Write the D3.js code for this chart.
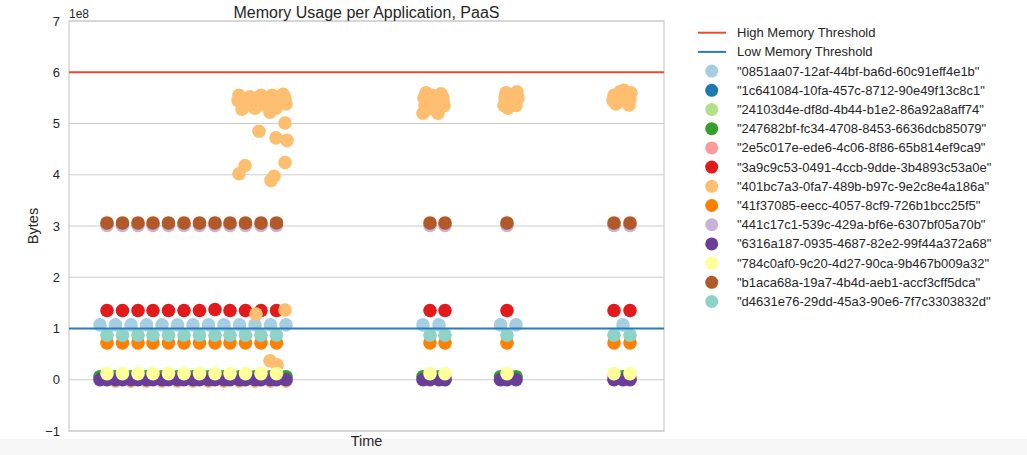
<!DOCTYPE html>
<html>
<head>
<meta charset="utf-8">
<script src="https://cdn.jsdelivr.net/npm/d3@7"></script>
<style>
  html, body { margin: 0; padding: 0; background: #ffffff; }
  svg { display: block; font-family: "Liberation Sans", Arial, sans-serif; }
</style>
</head>
<body>
<svg id="chart" width="1027" height="455"></svg>
<script>
// ---------- DATA ----------
const title = "Memory Usage per Application, PaaS";
const yLabel = "Bytes";
const xLabel = "Time";
const yTicks = [-1e8, 0, 1e8, 2e8, 3e8, 4e8, 5e8, 6e8, 7e8];
const highThreshold = 6e8;
const lowThreshold = 1e8;

const appNames = [
  "\"0851aa07-12af-44bf-ba6d-60c91eff4e1b\"",
  "\"1c641084-10fa-457c-8712-90e49f13c8c1\"",
  "\"24103d4e-df8d-4b44-b1e2-86a92a8aff74\"",
  "\"247682bf-fc34-4708-8453-6636dcb85079\"",
  "\"2e5c017e-ede6-4c06-8f86-65b814ef9ca9\"",
  "\"3a9c9c53-0491-4ccb-9dde-3b4893c53a0e\"",
  "\"401bc7a3-0fa7-489b-b97c-9e2c8e4a186a\"",
  "\"41f37085-eecc-4057-8cf9-726b1bcc25f5\"",
  "\"441c17c1-539c-429a-bf6e-6307bf05a70b\"",
  "\"6316a187-0935-4687-82e2-99f44a372a68\"",
  "\"784c0af0-9c20-4d27-90ca-9b467b009a32\"",
  "\"b1aca68a-19a7-4b4d-aeb1-accf3cff5dca\"",
  "\"d4631e76-29dd-45a3-90e6-7f7c3303832d\""
];
const appColors = ["#a6cee3","#1f78b4","#b2df8a","#33a02c","#fb9a99","#e31a1c",
                   "#fdbf6f","#ff7f00","#cab2d6","#6a3d9a","#ffff99","#b15928","#8dd3c7"];

// sample times (minutes from start)
const timesA = [62,93,124,155,186,217,248,279,310,341,372,403,434, 708,740, 863,894, 1108];
const timesB = [76,107,138,168,199,230,261,292,322,353,384,415, 722,752, 876, 1090,1122];

// memory values in units of 1e8 bytes
const vals0851 = [1.07,1.07,1.07,1.07,1.07,1.07,1.07,1.07,1.07,1.07,1.07,1.07,1.07, 1.07,1.07, 1.07,1.07, 1.07];
const vals1c64 = [0.02,0.02,0.02,0.02,0.02,0.02,0.02,0.02,0.02,0.02,0.02,0.02, 0.02,0.02, 0.02, 0.02,0.02];
const vals2410 = [0.04,0.04,0.04,0.04,0.04,0.04,0.04,0.04,0.04,0.04,0.04,0.04, 0.04,0.04, 0.04, 0.04,0.04];
const vals2476 = [0.06,0.06,0.06,0.06,0.06,0.06,0.06,0.06,0.06,0.06,0.06,0.06,0.06, 0.06,0.06, 0.06,0.06, 0.06];
const vals2e5c = [0.05,0.05,0.05,0.05,0.05,0.05,0.05,0.05,0.05,0.05,0.05,0.05, 0.05,0.05, 0.05, 0.05,0.05];
const vals3a9c = [1.35,1.35,1.35,1.35,1.35,1.35,1.35,1.37,1.35,1.35,1.35,1.35, 1.35,1.35, 1.35, 1.35,1.35];
const times401b = [338,340,344,346,356,362,366,372,376,378,384,388,394,398,402,406,410,414,420,428,432,434,430,
                   432,380,414,436,352,340,432,410,404,374,432,402,416,
                   93,124,155,186,217,248,279,310,341,372,403,434,
                   708,712,710,714,722,726,730,738,742,744,748,750,718,734,
                   870,872,874,882,888,894,898,896,878,886,
                   1088,1090,1094,1102,1106,1110,1114,1118,1122,1124,1120,1098];
const vals401b = [5.45,5.55,5.50,5.28,5.38,5.52,5.45,5.30,5.50,5.42,5.55,5.40,5.35,5.50,5.22,5.55,5.45,5.30,5.52,5.57,5.48,5.38,5.53,
                  5.01,4.85,4.72,4.67,4.18,4.02,4.24,3.97,3.89,1.28,1.36,0.37,0.29,
                  -0.03,-0.03,-0.03,-0.03,-0.03,-0.03,-0.03,-0.03,-0.03,-0.03,-0.03,-0.03,
                  5.20,5.35,5.50,5.60,5.45,5.55,5.30,5.20,5.40,5.58,5.50,5.35,5.28,5.48,
                  5.35,5.50,5.60,5.45,5.55,5.35,5.50,5.62,5.30,5.40,
                  5.45,5.55,5.38,5.62,5.50,5.65,5.42,5.55,5.48,5.60,5.36,5.50];
const vals41f3 = [0.72,0.72,0.72,0.72,0.72,0.72,0.72,0.72,0.72,0.72,0.72,0.72, 0.72,0.72, 0.72, 0.72,0.72];
const vals441c = [3.01,3.01,3.01,3.01,3.01,3.01,3.01,3.01,3.01,3.01,3.01,3.01, 3.01,3.01, 3.01, 3.01,3.01];
const vals6316A = [0.0,0.0,0.0,0.0,0.0,0.0,0.0,0.0,0.0,0.0,0.0,0.0,0.0, 0.0,0.0, 0.0,0.0, 0.0];
const vals6316B = [0.0,0.0,0.0,0.0,0.0,0.0,0.0,0.0,0.0,0.0,0.0,0.0, 0.0,0.0, 0.0, 0.0,0.0];
const vals784c = [0.12,0.12,0.12,0.12,0.12,0.12,0.12,0.12,0.12,0.12,0.12,0.12, 0.12,0.12, 0.12, 0.12,0.12];
const valsb1ac = [3.06,3.06,3.06,3.06,3.06,3.06,3.06,3.06,3.06,3.06,3.06,3.06, 3.06,3.06, 3.06, 3.06,3.06];
const valsd463 = [0.87,0.87,0.87,0.87,0.87,0.87,0.87,0.87,0.87,0.87,0.87,0.87, 0.87,0.87, 0.87, 0.87,0.87];

// ---------- BUILD ----------
const pair = (ts, vs) => ts.map((t, i) => ({ t: t, v: vs[i] * 1e8 }));
const seriesPoints = [
  pair(timesA, vals0851),
  pair(timesB, vals1c64),
  pair(timesB, vals2410),
  pair(timesA, vals2476),
  pair(timesB, vals2e5c),
  pair(timesB, vals3a9c),
  pair(times401b, vals401b),
  pair(timesB, vals41f3),
  pair(timesB, vals441c),
  pair(timesA, vals6316A).concat(pair(timesB, vals6316B)),
  pair(timesB, vals784c),
  pair(timesB, valsb1ac),
  pair(timesB, valsd463)
];

const svg = d3.select("#chart");
const W = 1027, H = 455;
const plot = { left: 69, right: 664, top: 21, bottom: 431 };
const textColor = "#262626";
const gridColor = "#cccccc";

svg.append("rect").attr("x", 0).attr("y", 0).attr("width", W).attr("height", H).attr("fill", "#ffffff");
svg.append("rect").attr("x", 0).attr("y", 439).attr("width", W).attr("height", H - 439).attr("fill", "#f7f7f7");

const x = d3.scaleLinear().domain([0, 1190]).range([plot.left, plot.right]);
const y = d3.scaleLinear().domain([-1e8, 7e8]).range([plot.bottom, plot.top]);

// grid
svg.append("g").selectAll("line").data(yTicks).join("line")
  .attr("x1", plot.left).attr("x2", plot.right)
  .attr("y1", d => y(d)).attr("y2", d => y(d))
  .attr("stroke", gridColor).attr("stroke-width", 1.2);

// frame
svg.append("rect")
  .attr("x", plot.left).attr("y", plot.top)
  .attr("width", plot.right - plot.left).attr("height", plot.bottom - plot.top)
  .attr("fill", "none").attr("stroke", gridColor).attr("stroke-width", 1.2);

// y axis
const yAxis = d3.axisLeft(y).tickValues(yTicks).tickSize(0).tickPadding(9)
  .tickFormat(d => d3.format("d")(d / 1e8).replace("-", "\u2212"));
const gy = svg.append("g").attr("transform", `translate(${plot.left},0)`).call(yAxis);
gy.select(".domain").remove();
gy.selectAll("text").attr("font-size", 13).attr("fill", textColor)
  .attr("font-family", "Liberation Sans, Arial, sans-serif");

// points
const gPts = svg.append("g");
seriesPoints.forEach((pts, i) => {
  gPts.append("g").selectAll("circle").data(pts).join("circle")
    .attr("cx", d => x(d.t)).attr("cy", d => y(d.v)).attr("r", 6.8)
    .attr("fill", appColors[i]);
});

// threshold lines
svg.append("line").attr("x1", plot.left).attr("x2", plot.right)
  .attr("y1", y(highThreshold)).attr("y2", y(highThreshold))
  .attr("stroke", "#f04a2c").attr("stroke-width", 2);
svg.append("line").attr("x1", plot.left).attr("x2", plot.right)
  .attr("y1", y(lowThreshold)).attr("y2", y(lowThreshold))
  .attr("stroke", "#2b7bba").attr("stroke-width", 2);

// texts
svg.append("text").attr("x", (plot.left + plot.right) / 2).attr("y", 17.5)
  .attr("text-anchor", "middle").attr("font-size", 16).attr("fill", textColor).text(title);
svg.append("text").attr("x", plot.left).attr("y", 18)
  .attr("font-size", 12).attr("fill", textColor).text("1e8");
svg.append("text").attr("transform", `translate(38,${(plot.top + plot.bottom) / 2}) rotate(-90)`)
  .attr("text-anchor", "middle").attr("font-size", 14.5).attr("fill", textColor).text(yLabel);
svg.append("text").attr("x", (plot.left + plot.right) / 2).attr("y", 446)
  .attr("text-anchor", "middle").attr("font-size", 14.5).attr("fill", textColor).text(xLabel);

// legend
const leg = svg.append("g");
const rowY = i => 32.7 + i * 19.2;
const lineItems = [{ name: "High Memory Threshold", color: "#f04a2c" }, { name: "Low Memory Threshold", color: "#2b7bba" }];
lineItems.forEach((d, i) => {
  leg.append("line").attr("x1", 698).attr("x2", 726).attr("y1", rowY(i)).attr("y2", rowY(i))
    .attr("stroke", d.color).attr("stroke-width", 2);
  leg.append("text").attr("x", 737).attr("y", rowY(i)).attr("dy", "0.35em")
    .attr("font-size", 13).attr("fill", textColor).text(d.name);
});
appNames.forEach((name, j) => {
  const i = j + 2;
  leg.append("circle").attr("cx", 711.7).attr("cy", rowY(i)).attr("r", 6.5).attr("fill", appColors[j]);
  leg.append("text").attr("x", 737).attr("y", rowY(i)).attr("dy", "0.35em")
    .attr("font-size", 13).attr("fill", textColor).text(name);
});
</script>
</body>
</html>
